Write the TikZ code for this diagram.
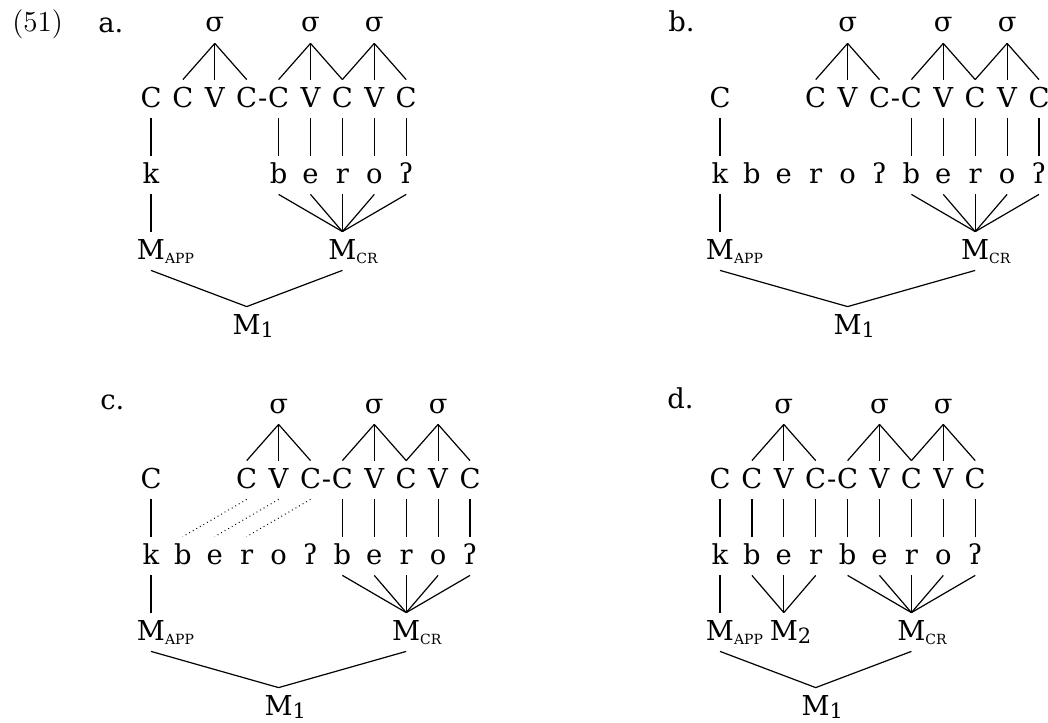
\documentclass[tikz,border=0pt]{standalone}
\usepackage{fontspec}
\newfontfamily\dv{DejaVu Serif}
\newcommand\Msc[1]{M\rlap{\raisebox{-2pt}{\fontsize{7pt}{8pt}\selectfont #1}}}
\newcommand\Mn[1]{M\rlap{\raisebox{-1.5pt}{\fontsize{10.5pt}{11pt}\selectfont #1}}}
\tikzset{
  seg/.style={anchor=base, inner sep=0pt, text height=13.5pt, text depth=5.5pt,
    font={\dv\fontsize{13.7pt}{16pt}\selectfont}},
  lbl/.style={anchor=base west, inner sep=0pt, font={\dv\fontsize{13.7pt}{16pt}\selectfont}},
  ln/.style={line width=0.6pt},
  dot/.style={line width=0.5pt, dash pattern=on 0.45pt off 1.6pt}
}
\begin{document}
\begin{tikzpicture}[x=0.5pt,y=-0.5pt]
\useasboundingbox (0,0) rectangle (1048,722);
\node[anchor=base west, inner sep=0pt, font={\fontsize{14.5pt}{17pt}\selectfont}] (ex) at (12,32) {(51)};
% ---------------- panel a
\node[lbl] (la) at (98,33) {a.};
\foreach \i/\t in {0/C,1/C,2/V,3/C,4/C,5/V,6/C,7/V,8/C}
  \node[seg] (aC\i) at ({151+31.9*\i},107) {\t};
\node[seg] (ah) at ({151+31.9*3.5},107) {-};
\foreach \i in {2,5,7} \node[seg] (aS\i) at ({151+31.9*\i},32) {σ};
\foreach \s/\c in {2/1,2/2,2/3,5/4,5/5,5/6,7/6,7/7,7/8}
  \draw[ln] (aS\s.south) -- (aC\c.north);
\node[seg] (as0) at (151,183) {k};
\foreach \i/\t in {4/b,5/e,6/r,7/o,8/ʔ}
  \node[seg] (as\i) at ({151+31.9*\i},183) {\t};
\foreach \i in {0,4,5,6,7,8} \draw[ln] (aC\i.south) -- (as\i.north);
\node[seg] (aMa) at (151,259) {\Msc{APP}};
\node[seg] (aMc) at ({151+31.9*6},259) {\Msc{CR}};
\draw[ln] (as0.south) -- (aMa.north);
\foreach \i in {4,...,8} \draw[ln] (as\i.south) -- (aMc.north);
\node[seg] (aM1) at ({151+31.9*3},334) {\Mn{1}};
\draw[ln] (aMa.south) -- (aM1.north) -- (aMc.south);
% ---------------- panel b
\node[lbl] (lb) at (668,32) {b.};
\node[seg] (bC0) at (720,107) {C};
\foreach \i/\t in {3/C,4/V,5/C,6/C,7/V,8/C,9/V,10/C}
  \node[seg] (bC\i) at ({720+31.9*\i},107) {\t};
\node[seg] (bh) at ({720+31.9*5.5},107) {-};
\foreach \i in {4,7,9} \node[seg] (bS\i) at ({720+31.9*\i},32) {σ};
\foreach \s/\c in {4/3,4/4,4/5,7/6,7/7,7/8,9/8,9/9,9/10}
  \draw[ln] (bS\s.south) -- (bC\c.north);
\foreach \i/\t in {0/k,1/b,2/e,3/r,4/o,5/ʔ,6/b,7/e,8/r,9/o,10/ʔ}
  \node[seg] (bs\i) at ({720+31.9*\i},183) {\t};
\foreach \i in {0,6,7,8,9,10} \draw[ln] (bC\i.south) -- (bs\i.north);
\node[seg] (bMa) at (720,259) {\Msc{APP}};
\node[seg] (bMc) at ({720+31.9*8},259) {\Msc{CR}};
\draw[ln] (bs0.south) -- (bMa.north);
\foreach \i in {6,...,10} \draw[ln] (bs\i.south) -- (bMc.north);
\node[seg] (bM1) at ({720+31.9*4},334) {\Mn{1}};
\draw[ln] (bMa.south) -- (bM1.north) -- (bMc.south);
% ---------------- panel c
\node[lbl] (lc) at (100,409) {c.};
\node[seg] (cC0) at (151,488) {C};
\foreach \i/\t in {3/C,4/V,5/C,6/C,7/V,8/C,9/V,10/C}
  \node[seg] (cC\i) at ({151+31.9*\i},488) {\t};
\node[seg] (ch) at ({151+31.9*5.5},488) {-};
\foreach \i in {4,7,9} \node[seg] (cS\i) at ({151+31.9*\i},413) {σ};
\foreach \s/\c in {4/3,4/4,4/5,7/6,7/7,7/8,9/8,9/9,9/10}
  \draw[ln] (cS\s.south) -- (cC\c.north);
\foreach \i/\t in {0/k,1/b,2/e,3/r,4/o,5/ʔ,6/b,7/e,8/r,9/o,10/ʔ}
  \node[seg] (cs\i) at ({151+31.9*\i},564) {\t};
\foreach \i in {0,6,7,8,9,10} \draw[ln] (cC\i.south) -- (cs\i.north);
\foreach \a/\b in {3/1,4/2,5/3} \draw[dot] (cC\a.south) -- (cs\b.north);
\node[seg] (cMa) at (151,640) {\Msc{APP}};
\node[seg] (cMc) at ({151+31.9*8},640) {\Msc{CR}};
\draw[ln] (cs0.south) -- (cMa.north);
\foreach \i in {6,...,10} \draw[ln] (cs\i.south) -- (cMc.north);
\node[seg] (cM1) at ({151+31.9*4},715) {\Mn{1}};
\draw[ln] (cMa.south) -- (cM1.north) -- (cMc.south);
% ---------------- panel d
\node[lbl] (ld) at (667,408) {d.};
\foreach \i/\t in {0/C,1/C,2/V,3/C,4/C,5/V,6/C,7/V,8/C}
  \node[seg] (dC\i) at ({720+31.9*\i},488) {\t};
\node[seg] (dh) at ({720+31.9*3.5},488) {-};
\foreach \i in {2,5,7} \node[seg] (dS\i) at ({720+31.9*\i},413) {σ};
\foreach \s/\c in {2/1,2/2,2/3,5/4,5/5,5/6,7/6,7/7,7/8}
  \draw[ln] (dS\s.south) -- (dC\c.north);
\foreach \i/\t in {0/k,1/b,2/e,3/r,4/b,5/e,6/r,7/o,8/ʔ}
  \node[seg] (ds\i) at ({720+31.9*\i},564) {\t};
\foreach \i in {0,...,8} \draw[ln] (dC\i.south) -- (ds\i.north);
\node[seg] (dMa) at (720,640) {\Msc{APP}};
\node[seg] (dM2) at ({720+31.9*2},640) {\Mn{2}};
\node[seg] (dMc) at ({720+31.9*6},640) {\Msc{CR}};
\draw[ln] (ds0.south) -- (dMa.north);
\foreach \i in {1,2,3} \draw[ln] (ds\i.south) -- (dM2.north);
\foreach \i in {4,...,8} \draw[ln] (ds\i.south) -- (dMc.north);
\node[seg] (dM1) at ({720+31.9*3},715) {\Mn{1}};
\draw[ln] (dMa.south) -- (dM1.north) -- (dMc.south);
\end{tikzpicture}
\end{document}
